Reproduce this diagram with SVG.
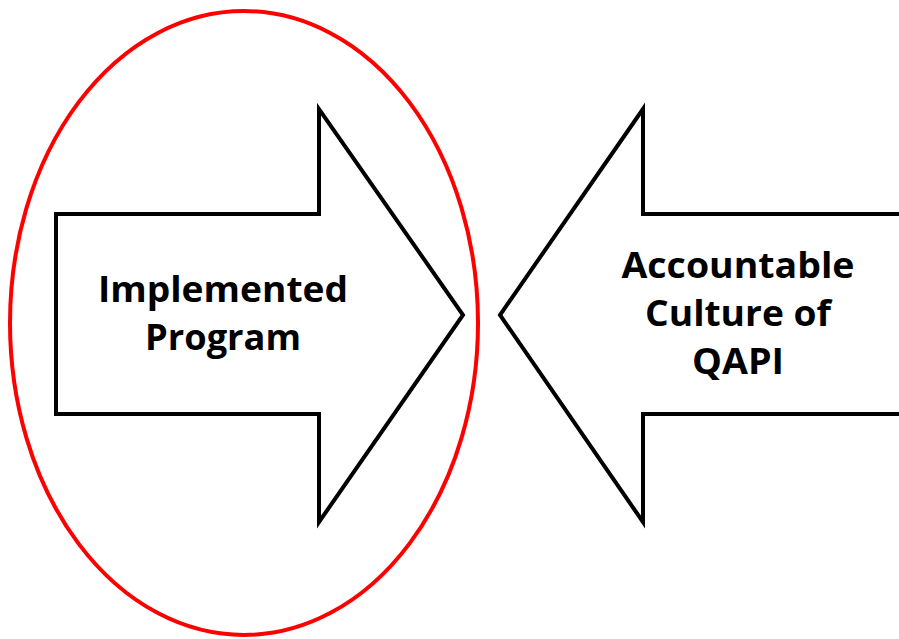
<svg xmlns="http://www.w3.org/2000/svg" width="899" height="639" viewBox="0 0 899 639">
<style>
.arrow{fill:#fff;stroke:#000;stroke-width:4;stroke-linejoin:miter}
.lbl{font-family:"Open Sans","Noto Sans","Liberation Sans",sans-serif;font-weight:bold;font-size:35px;fill:#000;text-anchor:middle}
</style>
<rect width="899" height="639" fill="#fff"/>
<g id="left-arrow">
<path class="arrow" d="M56,214 H319 V109 L463,315 L319,522 V414 H56 Z"/>
<text class="lbl" x="223" y="302" textLength="250" lengthAdjust="spacingAndGlyphs">Implemented</text>
<text class="lbl" x="223" y="350" textLength="156" lengthAdjust="spacingAndGlyphs">Program</text>
</g>
<g id="right-arrow">
<path class="arrow" d="M905,214 H643 V109 L500,315 L643,522 V414 H905 Z"/>
<text class="lbl" x="738" y="278" textLength="233" lengthAdjust="spacingAndGlyphs">Accountable</text>
<text class="lbl" x="738" y="326" textLength="186" lengthAdjust="spacingAndGlyphs">Culture of</text>
<text class="lbl" x="738" y="374" textLength="92" lengthAdjust="spacingAndGlyphs">QAPI</text>
</g>
<g id="highlight">
<ellipse cx="244" cy="323" rx="234" ry="312" fill="none" stroke="#f00" stroke-width="4"/>
</g>
</svg>
